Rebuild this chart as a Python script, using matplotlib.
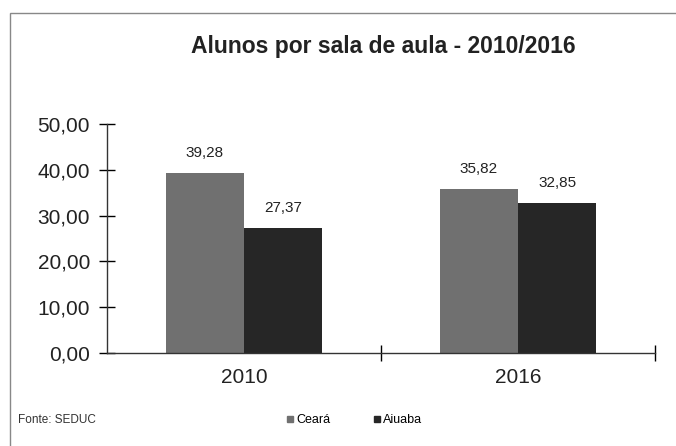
import matplotlib
matplotlib.use("Agg")
import matplotlib.pyplot as plt
import numpy as np
from matplotlib.patches import Rectangle
from matplotlib.lines import Line2D

plt.rcParams["font.family"] = ["Liberation Sans", "DejaVu Sans"]

YEARS = ["2010", "2016"]
SERIES = ["Ceará", "Aiuaba"]
CEARA = [39.28, 35.82]
AIUABA = [27.37, 32.85]
COLORS = ["#707070", "#262626"]
Y_TICKS = [0, 10, 20, 30, 40, 50]


def br(v):
    return f"{v:.2f}".replace(".", ",")


fig = plt.figure(figsize=(6.76, 4.46), dpi=100)
ax = fig.add_axes([0.158, 0.2085, 0.811, 0.5135])

x = np.arange(len(YEARS))
w = 0.285
for off, vals, color in [(-w / 2, CEARA, COLORS[0]), (w / 2, AIUABA, COLORS[1])]:
    bars = ax.bar(x + off, vals, width=w, color=color, edgecolor="none")
    for b, v in zip(bars, vals):
        ax.text(b.get_x() + b.get_width() / 2, v + 2.8, br(v),
                ha="center", va="bottom", fontsize=11, color="#222222")

ax.set_xlim(-0.5, 1.5)
ax.set_ylim(0, 50)
ax.set_yticks(Y_TICKS)
ax.set_yticklabels([br(t) for t in Y_TICKS], fontsize=15, color="#222222")
ax.set_xticks([0.5, 1.5], minor=False)
ax.set_xticklabels(["", ""])
ax.tick_params(axis="y", direction="inout", length=12, width=1, pad=6)
ax.tick_params(axis="x", direction="inout", length=12, width=1)
for i, yr in enumerate(YEARS):
    ax.text(i, -3.2, yr, ha="center", va="top", fontsize=15, color="#222222")

for s in ["top", "right"]:
    ax.spines[s].set_visible(False)
for s in ["left", "bottom"]:
    ax.spines[s].set_color("#333333")
    ax.spines[s].set_linewidth(1)

fig.text(0.567, 0.895, "Alunos por sala de aula - 2010/2016", ha="center", va="center",
         fontsize=16.5, fontweight="bold", color="#222222")

fig.text(0.027, 0.058, "Fonte: SEDUC", ha="left", va="center", fontsize=8.5, color="#333333")

handles = [Line2D([], [], marker="s", linestyle="none", markersize=4,
                  markerfacecolor=c, markeredgecolor=c) for c in COLORS]
fig.legend(handles, SERIES, loc="center", bbox_to_anchor=(0.523, 0.058), ncol=2,
           frameon=False, fontsize=9, handletextpad=0.1, columnspacing=3.3,
           handlelength=0.8)

fig.patches.append(Rectangle((0.015, -0.05), 1.2, 1.02, transform=fig.transFigure,
                             fill=False, edgecolor="#888888", linewidth=1))

fig.savefig("out.png", dpi=100)
